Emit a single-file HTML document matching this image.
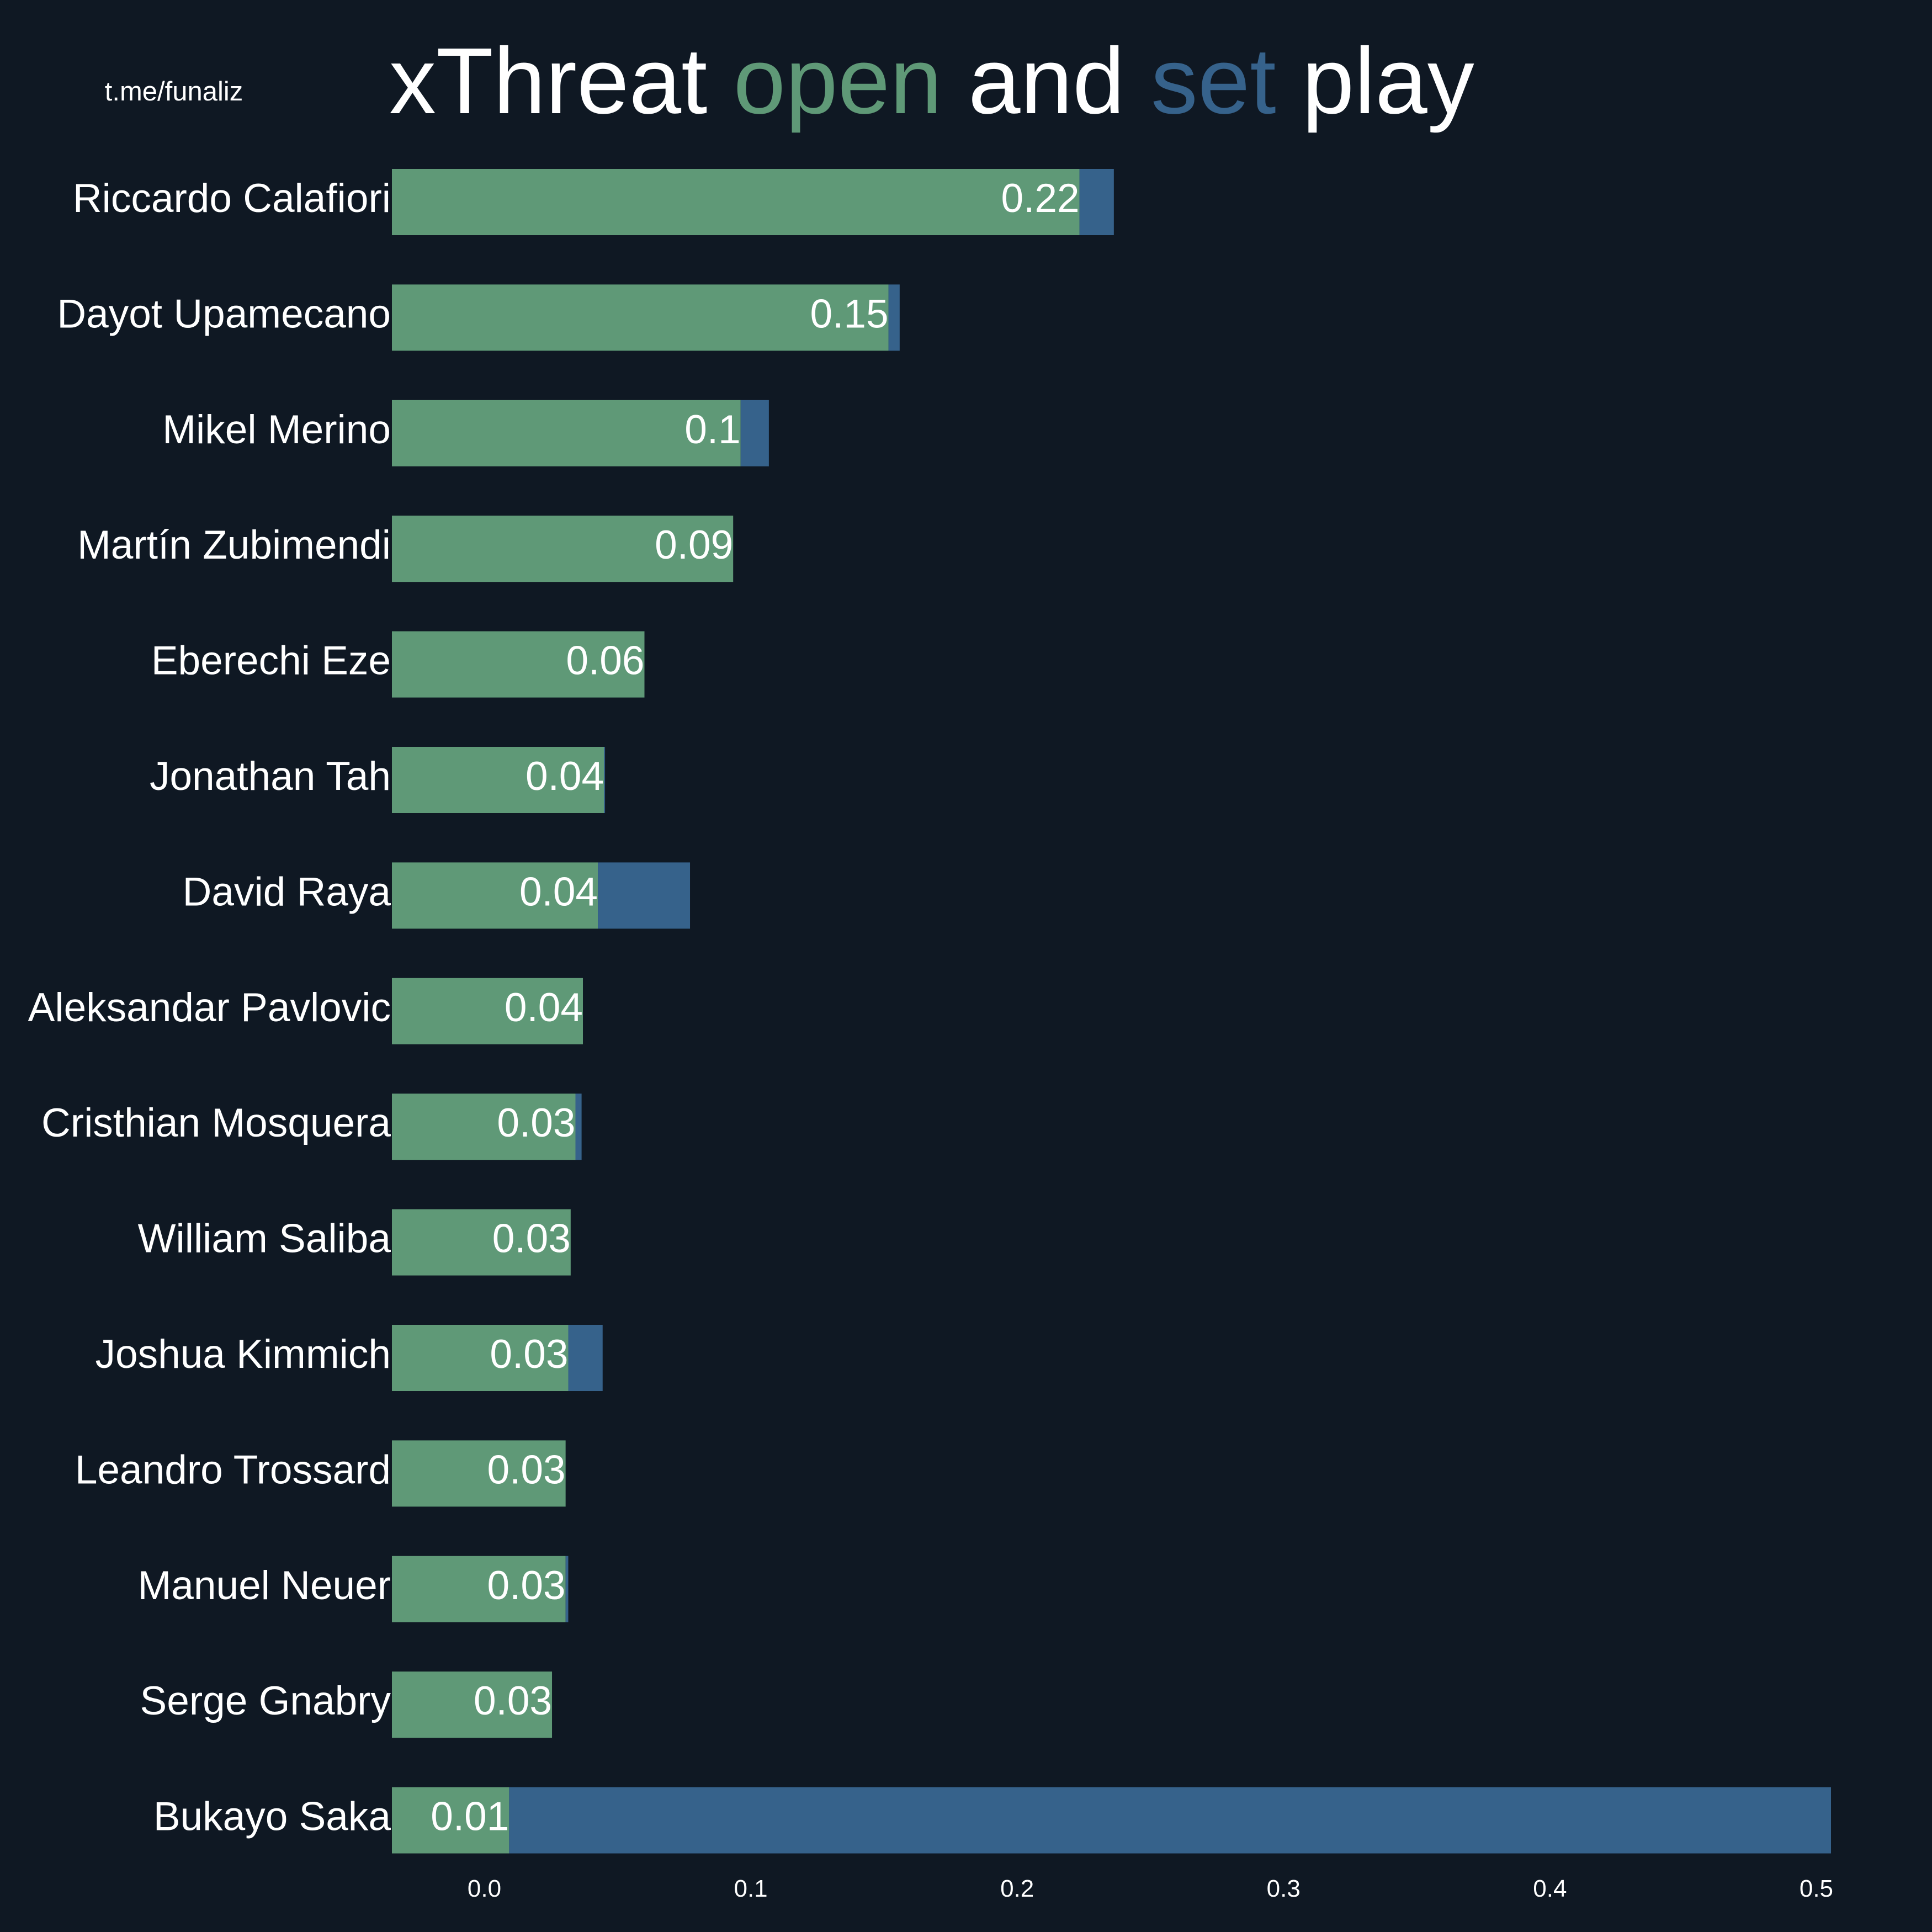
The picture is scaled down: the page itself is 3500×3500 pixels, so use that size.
<!DOCTYPE html>
<html><head><meta charset="utf-8"><style>
html,body{margin:0;padding:0;background:#0f1823;}
svg{display:block;font-family:"Liberation Sans",Arial,sans-serif;}
</style></head><body>
<svg id="chart" width="3500" height="3500" viewBox="0 0 3500 3500" xmlns="http://www.w3.org/2000/svg">
<rect x="0" y="0" width="3500" height="3500" fill="#0f1823"/>
<text x="315" y="182" fill="#ffffff" font-size="49" text-anchor="middle">t.me/funaliz</text>
<text x="705" y="205" fill="#ffffff" font-size="170">xThreat <tspan fill="#5f9977">open</tspan> and <tspan fill="#36628b">set</tspan> play</text>
<g id="bars"></g>
<g id="xaxis"></g>
</svg>
<script>
const players = ["Riccardo Calafiori","Dayot Upamecano","Mikel Merino","Martín Zubimendi","Eberechi Eze","Jonathan Tah","David Raya","Aleksandar Pavlovic","Cristhian Mosquera","William Saliba","Joshua Kimmich","Leandro Trossard","Manuel Neuer","Serge Gnabry","Bukayo Saka"];
const openPlay = [0.2234,0.1517,0.0962,0.0934,0.0601,0.0449,0.0426,0.0370,0.0342,0.0324,0.0315,0.0305,0.0305,0.0254,0.0093];
const setPlay = [0.0129,0.0042,0.0106,0.0,0.0,0.0004,0.0346,0.0,0.0023,0.0,0.0129,0.0,0.0010,0.0,0.4962];
const openLabels = ["0.22","0.15","0.1","0.09","0.06","0.04","0.04","0.04","0.03","0.03","0.03","0.03","0.03","0.03","0.01"];
const xTicks = [0.0,0.1,0.2,0.3,0.4,0.5];
const xTickLabels = ["0.0","0.1","0.2","0.3","0.4","0.5"];

const NS="http://www.w3.org/2000/svg";
const xMin=-0.0347, xMax=0.5055, pxLeft=710, pxRight=3317;
function xScale(v){return pxLeft+(v-xMin)/(xMax-xMin)*(pxRight-pxLeft);}
const rowTop=366, rowStep=209.4, barH=120;
function yScale(i){return rowTop+i*rowStep;}
function mk(tag,attrs){const e=document.createElementNS(NS,tag);for(const k in attrs)e.setAttribute(k,attrs[k]);return e;}
const gb=document.getElementById('bars');
players.forEach((p,i)=>{
  const cy=yScale(i);
  const x0=xScale(xMin), xo=xScale(openPlay[i]), xt=xScale(openPlay[i]+setPlay[i]);
  const g=mk('rect',{x:x0,y:cy-barH/2,width:xo-x0,height:barH,fill:'#5f9977'});
  
  
  gb.appendChild(g);
  if(xt>xo){
    const b=mk('rect',{x:xo,y:cy-barH/2,width:xt-xo,height:barH,fill:'#36628b'});
    
    
    gb.appendChild(b);
  }
  const n=mk('text',{x:pxLeft-2,y:cy+18,fill:'#ffffff','font-size':73,'text-anchor':'end'});
  n.textContent=p;
  
  
  gb.appendChild(n);
  const v=mk('text',{x:xo,y:cy+18,fill:'#ffffff','font-size':73,'text-anchor':'end'});
  v.textContent=openLabels[i];
  
  
  gb.appendChild(v);
});
const gx=document.getElementById('xaxis');
xTicks.forEach((t,i)=>{
  const tx=mk('text',{x:xScale(t),y:3436,fill:'#ffffff','font-size':44,'text-anchor':'middle'});
  tx.textContent=xTickLabels[i];
  
  
  gx.appendChild(tx);
});
</script>
</body></html>
